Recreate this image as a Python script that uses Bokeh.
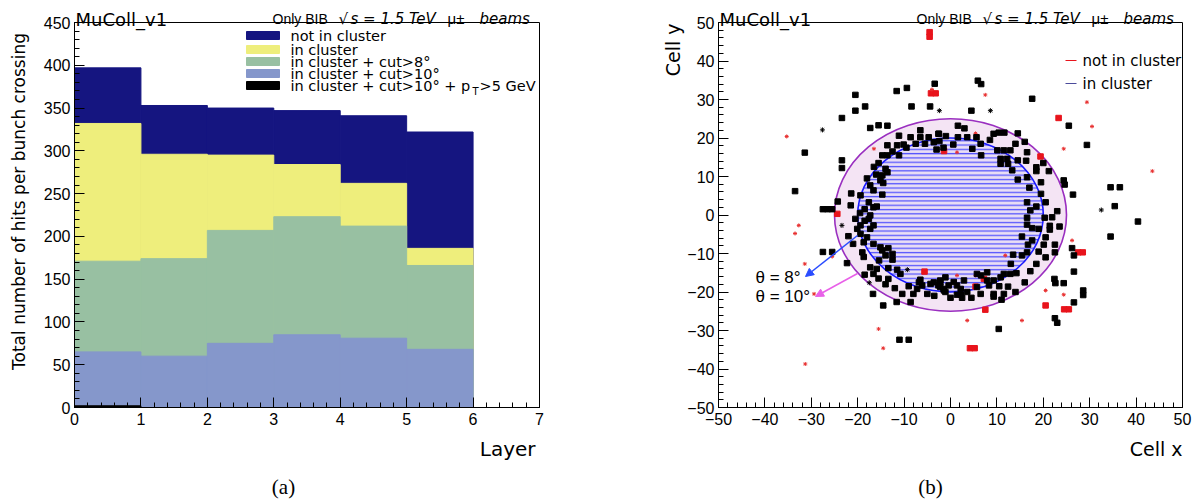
import math
from bokeh.plotting import figure
from bokeh.layouts import row
from bokeh.models import Label, Range1d, SingleIntervalTicker, Arrow, NormalHead
from bokeh.embed import file_html
from bokeh.resources import INLINE

# ---------------- data: left panel (hits per layer) ----------------
layer_edges = [0, 1, 2, 3, 4, 5, 6]
not_in_cluster = [397, 353, 350, 347, 341, 322]
in_cluster = [332, 296, 295, 284, 262, 186]
in_cluster_cut8 = [171, 174, 207, 223, 212, 166]
in_cluster_cut10 = [65, 60, 75, 85, 81, 68]
in_cluster_cut10_pt5 = [2, 0, 0, 0, 0, 0]
series_labels = ["not in cluster", "in cluster", "in cluster + cut>8°",
                 "in cluster + cut>10°", "in cluster + cut>10° + p"]
series_colors = ["#151580", "#eeee7c", "#98c0a2", "#8597cb", "#000000"]
layer_ticks = [0, 7]
hits_ticks = [0, 450]

# ---------------- data: right panel (cell map) ----------------
in_cl_x = [-23.4, -20.5, -20.5, -18.4, -11.6, -9.4, -8.4, -4.4, -3.4, 4.5, 5.9, 6.6, 17.6,
           -17.3, -15.5, -31.4, -23.4, -23.4, -33.5, -27.5, -26.5, -25.5, -24.3, -21.4,
           -27.5, -25.5, -22.3, -16.7, -14.5, -11.6, -8.6, -18.5, -13.4, -10.4, -11.0, -9.0, 10.4,
           25.5, 29.4, 34.5, 36.5, 35.4, 40.4, 34.5, 26.4, 24.4, 24.6, 26.2, 26.6, 26.6, 22.4,
           22.6, 24.4, 28.6, 28.6, 26.6, 22.5, 23.0,
           16.5, 16.3, 18.5, 18.5, 21.2, 14.5, 16.5, 17.0, 16.5, 18.5, 17.2, 20.5, 21.9, 20.3,
           16.5, 16.5, 17.6, 19.0, 21.4, 21.4, 15.4, 16.7, 17.6, 20.5, 20.1, 22.5, 22.5, 16.5,
           15.4, 13.5, 13.0, 14.2, 12.9, 11.5, 18.5, 17.2, 10.8, 9.3, 7.9, 6.6, 5.7, 8.3, 9.3,
           11.5, 12.4, 2.9, 1.4, -1.4, -2.2, 2.5, 1.4,
           10.4, 11.6, 14.5, 9.3, 5.6, 3.6, 1.6, 1.6, -2.5, -3.6, 0.6, 4.7, 6.6, 10.8, 12.2,
           10.8, 12.4, 10.1, 11.5, 12.9, 13.3, 14.5,
           -13.6, -11.1, -10.1, -8.6, -6.5, -4.7, -2.6, -2.4, -13.6, -11.5, -14.7, -13.6, -11.1,
           -14.0, -13.6, -14.7, -15.1, -14.5, -17.3, -16.6, -14.7, -19.4, -17.6, -16.6, -15.9,
           -17.3, -17.6, -16.6, -17.3, -19.4, -20.1, -19.4, -18.0, -18.7, -16.6, -15.1, -14.7,
           -13.4, -12.5, -12.5, -14.0, -15.4, -19.0, -18.7, -17.3, -15.9, -16.6, -13.4, -11.5,
           -10.8, -6.8, -6.1, -3.6, -2.6, -1.5, -2.2, -1.1,
           -6.5, -4.3, -2.2, -0.4, 0.7, 2.2, 3.6, 5.7, 7.9, 9.3, 2.2, -7.2, -1.1,
           -5.5, -3.0, -1.5,
           -16.5, -15.5, -12.5, -9.5, -7.5, -16.0, -18.0,
           -18.5, -19.5, -18.5, -20.5, -21.5, -22.0, -21.0,
           -15.5, -14.0, -12.0, -9.0, -8.0, -5.0, -3.5,
           0.0, 4.5, 6.5, 10.5, 11.0, 14.0, 16.0,
           19.5, 19.0, 20.5, 23.5, 23.0, 19.5, 20.0,
           -1.0, 6.5, 8.5, 14.0, 16.0, 3.0, -6.5]
in_cl_y = [25.2, 31.2, 27.1, 28.2, 32.2, 33.0, 28.2, 28.2, 34.1, 27.1, 34.9, 34.0, 30.2,
           22.6, 23.3, 16.2, 14.2, 12.2, 6.2, 1.5, 1.5, 1.5, 3.5, 5.6,
           -9.6, -9.6, -12.5, -20.5, -23.5, -22.6, -22.6, -15.5, -16.6, -20.5, -32.4, -32.4, -29.6,
           23.2, 18.2, 7.2, 7.2, 2.3, -1.7, -5.6, 5.3, 9.0, 7.9, -8.6, -10.5, -14.7, -16.6,
           -17.7, -17.7, -19.6, -20.8, -22.7, -26.8, -28.0,
           16.3, 14.1, 12.4, 11.4, 11.4, 9.2, 9.8, 7.1, 3.3, 2.2, 1.2, 3.3, -0.6, -0.7,
           -0.7, -2.5, -3.4, -3.6, -2.8, -3.8, -5.6, -7.7, -6.6, -5.8, -7.7, -7.7, -9.7, -9.7,
           -10.5, -10.3, -12.7, -15.1, -15.3, -15.3, -12.7, -14.6, -16.2, -17.0, -14.9, -15.7, -15.3, -18.3, -20.5,
           -20.5, -18.6, -17.0, -18.3, -19.6, -17.5, -21.5, -20.7,
           21.4, 21.4, 21.2, 21.1, 20.2, 20.2, 20.2, 23.2, 21.1, 18.9, 18.3, 17.2, 15.5, 14.6, 14.6,
           13.3, 13.3, 16.8, 16.8, 16.8, 11.6, 14.2,
           23.2, 20.6, 18.3, 20.2, 20.2, 20.2, 21.1, 19.2, 18.1, 18.1, 15.5, 15.5, 15.5,
           12.0, 11.1, 10.3, 9.0, 8.3, 7.7, 6.4, 5.3, 5.1, 3.3, 2.0, 2.2,
           -0.1, -1.0, -2.7, -3.6, -2.7, -3.6, -4.9, -5.8, -7.1, -7.5, -8.4, -9.2,
           -8.6, -10.1, -11.6, -10.5, -11.8, -9.7, -10.9, -13.6, -14.0, -15.3, -13.8, -14.2,
           -15.3, -17.5, -18.3, -17.5, -18.3, -19.2, -17.0, -16.2,
           -16.8, -17.9, -18.7, -18.3, -17.4, -19.2, -20.0, -18.7, -17.0, -21.2, -20.7, -19.2, -20.0,
           18.5, 17.0, 17.5,
           12.5, 13.5, 16.5, 17.5, 18.5, 10.5, 9.5,
           1.5, 0.5, -1.5, -1.0, 2.5, -5.5, -7.5,
           -16.5, -18.0, -19.0, -18.5, -20.5, -20.5, -21.0,
           -21.5, -21.5, -20.5, -18.5, -22.0, -20.0, -17.5,
           5.5, -9.5, -11.0, -3.0, 1.0, 8.5, 13.5,
           20.5, 18.5, 19.5, 18.5, 19.0, 22.5, 22.0]
in_cl_small_x = [-27.6, -23.4, -9.3, -17.5, 8.6, 32.5, -2.4]
in_cl_small_y = [22.1, -2.7, -14.2, -17.6, 27.1, 1.3, 27.1]
not_cl_x = [-4.5, -4.5, -4.2, -3.2, -24.4, 23.3, 19.4, 27.5, 28.5, 20.5, 24.5, 25.5,
            7.5, -5.6, 5.4, 4.2, 5.2, -1.4, 7.2]
not_cl_y = [47.5, 46.3, 31.6, 31.6, 0.3, 25.2, 15.2, -9.7, -9.7, -23.5, -24.5, -24.5,
            -24.6, -14.7, -18.6, -34.6, -34.6, 16.6, -16.6]
not_cl_small_x = [-35.3, -32.7, -33.5, -16.5, -25.5, -31.4, -29.4, -31.3, -15.5, -14.5,
                  3.6, 15.4, 1.4, 29.4, 30.5, 24.4, 43.5, 1.4, 5.4, 5.4, 20.5, 24.4, 11.8,
                  26.2, 7.5, -4.0]
not_cl_small_y = [20.4, -2.7, -4.8, 17.2, -10.8, -12.7, -20.5, -38.7, -29.6, -34.6,
                  -27.4, -27.4, -15.7, 29.3, 23.0, 17.2, 11.4, 16.3, 21.2, -15.7, -19.6, -20.7,
                  -10.5, -6.6, 31.2, 32.6]
cell_ticks = [-50, 50]
theta_radius = [25, 20]   # cell radius of theta = 10 deg and theta = 8 deg cones
theta_labels = ["θ = 8°", "θ = 10°"]

SANS = "Liberation Sans"
WIDE = "DejaVu Sans"
W, H = 600, 499


def make_fig(xlim, ylim, fl, fr, ft, fb, off):
    # frame fills the whole canvas; the axes sit at fixed data locations
    sx = (fr - fl) / float(xlim[1] - xlim[0])
    sy = (fb - ft) / float(ylim[1] - ylim[0])
    xr = Range1d(xlim[0] - (fl - off) / sx, xlim[1] + (off + W - fr) / sx)
    yr = Range1d(ylim[0] - (H - fb) / sy, ylim[1] + ft / sy)
    p = figure(width=W, height=H, x_range=xr, y_range=yr, output_backend="svg",
               toolbar_location=None, min_border=0, min_border_left=0, min_border_right=0,
               min_border_top=0, min_border_bottom=0)
    p.outline_line_color = None
    p.background_fill_color = "white"
    p.border_fill_color = "white"
    p.xgrid.visible = False
    p.ygrid.visible = False
    p.xaxis[0].fixed_location = ylim[0]
    p.yaxis[0].fixed_location = xlim[0]
    p.xaxis[0].bounds = (xlim[0], xlim[1])
    p.yaxis[0].bounds = (ylim[0], ylim[1])
    for ax in (p.xaxis[0], p.yaxis[0]):
        ax.major_tick_in = 10
        ax.major_tick_out = 0
        ax.minor_tick_in = 5
        ax.minor_tick_out = 0
        ax.axis_line_color = "black"
        ax.major_tick_line_color = "black"
        ax.minor_tick_line_color = "black"
        ax.major_label_text_font = SANS
        ax.major_label_text_font_size = "16px"
        ax.major_label_text_color = "black"
    p.xaxis[0].major_label_standoff = 5
    p.yaxis[0].major_label_standoff = 4

    def px2x(px):
        return xlim[0] + (px - fl) / sx

    def py2y(py):
        return ylim[0] + (fb - py) / sy
    return p, px2x, py2y


def lab(p, x, y, text, size="15px", style="normal", align="left", baseline="alphabetic",
        angle=0.0, color="black", font=WIDE):
    p.add_layout(Label(x=x, y=y, text=text, text_font=font, text_font_size=size,
                       text_font_style=style, text_align=align, text_baseline=baseline,
                       angle=angle, text_color=color))


def header(p, fx, fy, left):
    lab(p, fx(left + 1), fy(19), "MuColl_v1", size="18px")
    lab(p, fx(left + 198), fy(18), "Only BIB", size="14px", font=SANS)
    lab(p, fx(left + 264), fy(18), "√", size="15px")
    lab(p, fx(left + 276), fy(18), "s = 1.5 TeV", size="15px", style="italic")
    lab(p, fx(left + 373), fy(18), "μ±", size="15px", font=SANS)
    lab(p, fx(left + 405), fy(18), "beams", size="15px", style="italic")


# ================= LEFT PANEL =================
p1, lx, ly = make_fig(layer_ticks, hits_ticks, 74, 539, 22, 407, 0)
p1.xaxis[0].ticker = SingleIntervalTicker(interval=1, num_minor_ticks=5)
p1.yaxis[0].ticker = SingleIntervalTicker(interval=50, num_minor_ticks=5)

series = [not_in_cluster, in_cluster, in_cluster_cut8, in_cluster_cut10, in_cluster_cut10_pt5]
for vals, col in zip(series, series_colors):
    p1.quad(left=layer_edges[:-1], right=layer_edges[1:], bottom=0, top=vals,
            fill_color=col, line_color=col, line_width=1)
# frame box (top / right edges)
p1.quad(left=[layer_ticks[0]], right=[layer_ticks[1]], bottom=[hits_ticks[0]],
        top=[hits_ticks[1]], fill_color=None, line_color="black", line_width=1)

# legend (ROOT style)
leg_rows = [35, 49, 61, 73, 85]
for i, (txt, col) in enumerate(zip(series_labels, series_colors)):
    yc = leg_rows[i]
    p1.quad(left=[lx(246)], right=[lx(279)], bottom=[ly(yc + 4)], top=[ly(yc - 4)],
            fill_color=col, line_color=col)
    lab(p1, lx(290), ly(yc), txt, size="14.5px", baseline="middle")
lab(p1, lx(472), ly(91), "T", size="10px", baseline="middle")
lab(p1, lx(479), ly(85), ">5 GeV", size="14.5px", baseline="middle")

header(p1, lx, ly, 74)

# axis titles and caption
lab(p1, lx(18), ly(201), "Total number of hits per bunch crossing", size="17px",
    align="center", baseline="middle", angle=math.pi / 2)
lab(p1, lx(535), ly(448), "Layer", size="20px", align="right")
lab(p1, lx(283), ly(486), "(a)", size="21px", align="center", baseline="middle",
    font="Liberation Serif")

# ================= RIGHT PANEL =================
p2, rx, ry = make_fig(cell_ticks, cell_ticks, 718, 1182, 22, 407, 600)
p2.xaxis[0].ticker = SingleIntervalTicker(interval=10, num_minor_ticks=5)
p2.yaxis[0].ticker = SingleIntervalTicker(interval=10, num_minor_ticks=5)
neg = {v: ("−" + str(-v)) for v in (-50, -40, -30, -20, -10)}
p2.xaxis[0].major_label_overrides = neg
p2.yaxis[0].major_label_overrides = neg
p2.quad(left=[cell_ticks[0]], right=[cell_ticks[1]], bottom=[cell_ticks[0]],
        top=[cell_ticks[1]], fill_color=None, line_color="black", line_width=1)

# theta cones
p2.ellipse(x=[0], y=[0], width=[2 * theta_radius[0]], height=[2 * theta_radius[0]],
           fill_color="#f4e4f4", line_color="#9a2fc0", line_width=1.6)
p2.ellipse(x=[0], y=[0], width=[2 * theta_radius[1]], height=[2 * theta_radius[1]],
           fill_color="#e9def4", line_color="#1a1aff", line_width=1.6,
           hatch_pattern="horizontal_line", hatch_color="#3c3cff", hatch_alpha=0.85,
           hatch_scale=4.3, hatch_weight=1.3)

# cells
p2.rect(x=not_cl_x, y=not_cl_y, width=1.2, height=1.4, fill_color="#e8141c",
        line_color="#e8141c")
p2.scatter(x=not_cl_small_x, y=not_cl_small_y, marker="asterisk", size=4,
           line_color="#e83030", line_width=1)
p2.rect(x=in_cl_x, y=in_cl_y, width=1.2, height=1.4, fill_color="black", line_color="black")
p2.scatter(x=in_cl_small_x, y=in_cl_small_y, marker="asterisk", size=5,
           line_color="black", line_width=1)

# legend
p2.line(x=[rx(1065), rx(1076)], y=[ry(60), ry(60)], line_color="#e8141c", line_width=1)
p2.line(x=[rx(1065), rx(1076)], y=[ry(83), ry(83)], line_color="#4b4b9b", line_width=1)
lab(p2, rx(1082), ry(60), "not in cluster", size="15px", baseline="middle")
lab(p2, rx(1082), ry(83), "in cluster", size="15px", baseline="middle")

# arrows and theta labels
p2.add_layout(Arrow(end=NormalHead(size=8, fill_color="#2a4cff", line_color="#2a4cff"),
                    x_start=rx(857), y_start=ry(235), x_end=rx(805), y_end=ry(276),
                    line_color="#2a4cff", line_width=1.5))
p2.add_layout(Arrow(end=NormalHead(size=8, fill_color="#e860e8", line_color="#e860e8"),
                    x_start=rx(857), y_start=ry(273), x_end=rx(815), y_end=ry(296),
                    line_color="#e860e8", line_width=1.5))
lab(p2, rx(755), ry(277), theta_labels[0], size="17px", baseline="middle", font=SANS)
lab(p2, rx(755), ry(296), theta_labels[1], size="17px", baseline="middle", font=SANS)

header(p2, rx, ry, 718)

# axis titles and caption
lab(p2, rx(672), ry(23), "Cell y", size="19px", align="right", baseline="middle",
    angle=math.pi / 2)
lab(p2, rx(1182), ry(448), "Cell x", size="19px", align="right")
lab(p2, rx(930), ry(486), "(b)", size="21px", align="center", baseline="middle",
    font="Liberation Serif")

layout = row(p1, p2)
open("out.html", "w").write(file_html(layout, INLINE))
